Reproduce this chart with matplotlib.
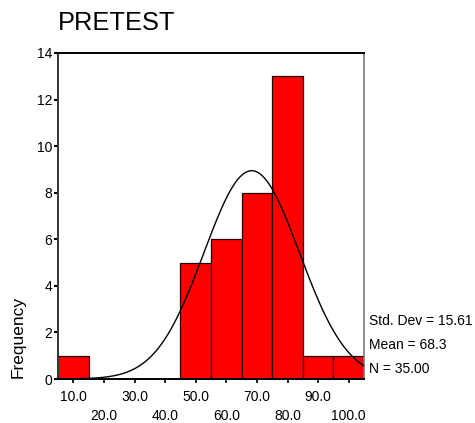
import numpy as np
import matplotlib
matplotlib.use("Agg")
import matplotlib.pyplot as plt

# -------------------------------
# DATA
# -------------------------------
bin_centers = [10, 20, 30, 40, 50, 60, 70, 80, 90, 100]
counts = [1, 0, 0, 0, 5, 6, 8, 13, 1, 1]
tick_labels = ["10.0", "\n20.0", "30.0", "\n40.0", "50.0",
               "\n60.0", "70.0", "\n80.0", "90.0", "\n100.0"]
y_ticks = [0, 2, 4, 6, 8, 10, 12, 14]
mean_val = 68.3
std_val = 15.61
n_val = 35.00
bin_width = 10

plt.rcParams['font.family'] = ['Liberation Sans', 'DejaVu Sans']

fig = plt.figure(figsize=(4.75, 4.23), dpi=100)
ax = fig.add_axes([58 / 475, 44 / 423, 306 / 475, 326 / 423])

ax.bar(bin_centers, counts, width=bin_width, color='#ff0000',
       edgecolor='#200000', linewidth=0.9, zorder=2)

# fitted normal curve scaled to counts
xs = np.linspace(5, 105, 400)
curve = n_val * bin_width / (std_val * np.sqrt(2 * np.pi)) * \
    np.exp(-0.5 * ((xs - mean_val) / std_val) ** 2)
ax.plot(xs, curve, color='black', linewidth=1.0, zorder=3)

ax.set_xlim(5, 105)
ax.set_ylim(0, 14)
ax.set_xticks(bin_centers)
ax.set_xticklabels(tick_labels, fontsize=10, linespacing=1.45)
ax.set_yticks(y_ticks)
ax.set_yticklabels([str(v) for v in y_ticks], fontsize=10)
ax.tick_params(axis='x', length=3, width=1.2, pad=5)
ax.tick_params(axis='y', length=3, width=1.5, pad=1)

ax.spines['top'].set_linewidth(1.4)
ax.spines['left'].set_linewidth(1.4)
ax.spines['left'].set_color('#333333')
ax.spines['bottom'].set_linewidth(1.4)
ax.spines['right'].set_linewidth(1.2)
ax.spines['right'].set_color('#777777')

ax.set_ylabel("Frequency", fontsize=12.5)
ax.yaxis.set_label_coords(-0.105, 0.13)

fig.text(58 / 475, 1 - 22.5 / 423, "PRETEST", fontsize=18.3, va='center', ha='left')

stats = [f"Std. Dev = {std_val:.2f}", f"Mean = {mean_val:.1f}", f"N = {n_val:.2f}"]
for i, s in enumerate(stats):
    fig.text(369 / 475, 1 - (321 + 24 * i) / 423, s, fontsize=10, va='center', ha='left')

fig.savefig("out.png", dpi=100)
